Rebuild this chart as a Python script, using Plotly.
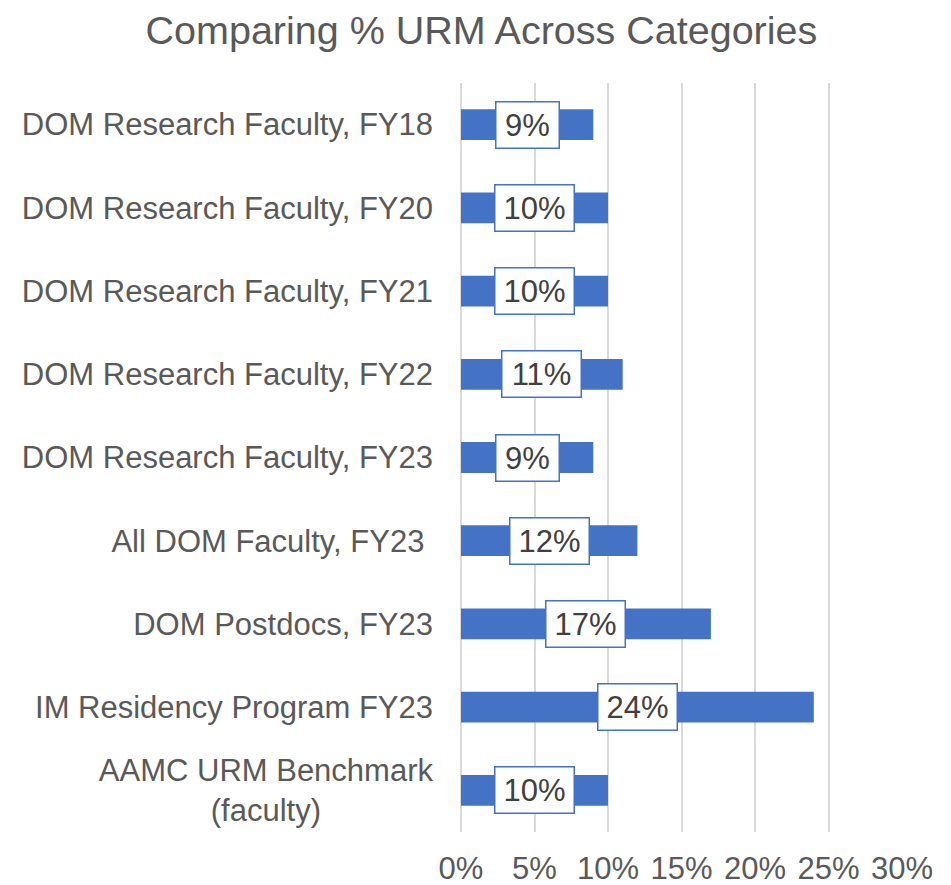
import plotly.graph_objects as go

categories = [
    "DOM Research Faculty, FY18",
    "DOM Research Faculty, FY20",
    "DOM Research Faculty, FY21",
    "DOM Research Faculty, FY22",
    "DOM Research Faculty, FY23",
    "All DOM Faculty, FY23\u00a0",
    "DOM Postdocs, FY23",
    "IM Residency Program FY23",
    "AAMC URM Benchmark<br>(faculty)" + "\u00a0" * 13,
]
values = [0.09, 0.10, 0.10, 0.11, 0.09, 0.12, 0.17, 0.24, 0.10]
labels = ["9%", "10%", "10%", "11%", "9%", "12%", "17%", "24%", "10%"]
x_ticks = [0, 0.05, 0.10, 0.15, 0.20, 0.25, 0.30]
x_tick_labels = ["0%", "5%", "10%", "15%", "20%", "25%", "30%"]

BLUE = "#4472C4"
GREY = "#595959"
FONT = "Liberation Sans, Arial, sans-serif"

fig = go.Figure()
fig.add_trace(go.Bar(
    y=categories, x=values, orientation="h",
    marker=dict(color=BLUE, line=dict(width=0)),
    hoverinfo="skip",
))

for c, v, t in zip(categories, values, labels):
    fig.add_annotation(
        x=v / 2, y=c, xref="x", yref="y", text=t, showarrow=False,
        width=60 if len(t) == 2 else 76, height=43, align="center", valign="middle",
        font=dict(family=FONT, size=31, color="#404040"),
        bgcolor="white", bordercolor=BLUE, borderwidth=1.5, borderpad=1,
    )

fig.update_layout(
    width=943, height=877,
    margin=dict(l=453, r=49, t=75, b=53),
    paper_bgcolor="white", plot_bgcolor="white",
    bargap=0.63,
    showlegend=False,
    title=dict(text="Comparing % URM Across Categories", x=0.502, xanchor="center",
               y=0.975, yanchor="middle",
               font=dict(family=FONT, size=39.5, color=GREY)),
    xaxis=dict(range=[0, 0.30], tickvals=x_ticks, ticktext=x_tick_labels,
               showgrid=True, gridcolor="#D9D9D9", gridwidth=1.5,
               zeroline=True, zerolinecolor="#D9D9D9", zerolinewidth=1.5,
               showline=False, ticks="", ticklabelstandoff=15, automargin=False,
               tickfont=dict(family=FONT, size=31, color=GREY), fixedrange=True),
    yaxis=dict(autorange="reversed", showgrid=False, showline=False, ticks="",
               ticklabelstandoff=27, automargin=False,
               tickfont=dict(family=FONT, size=31, color=GREY), fixedrange=True),
)

fig.write_html("out.html")
